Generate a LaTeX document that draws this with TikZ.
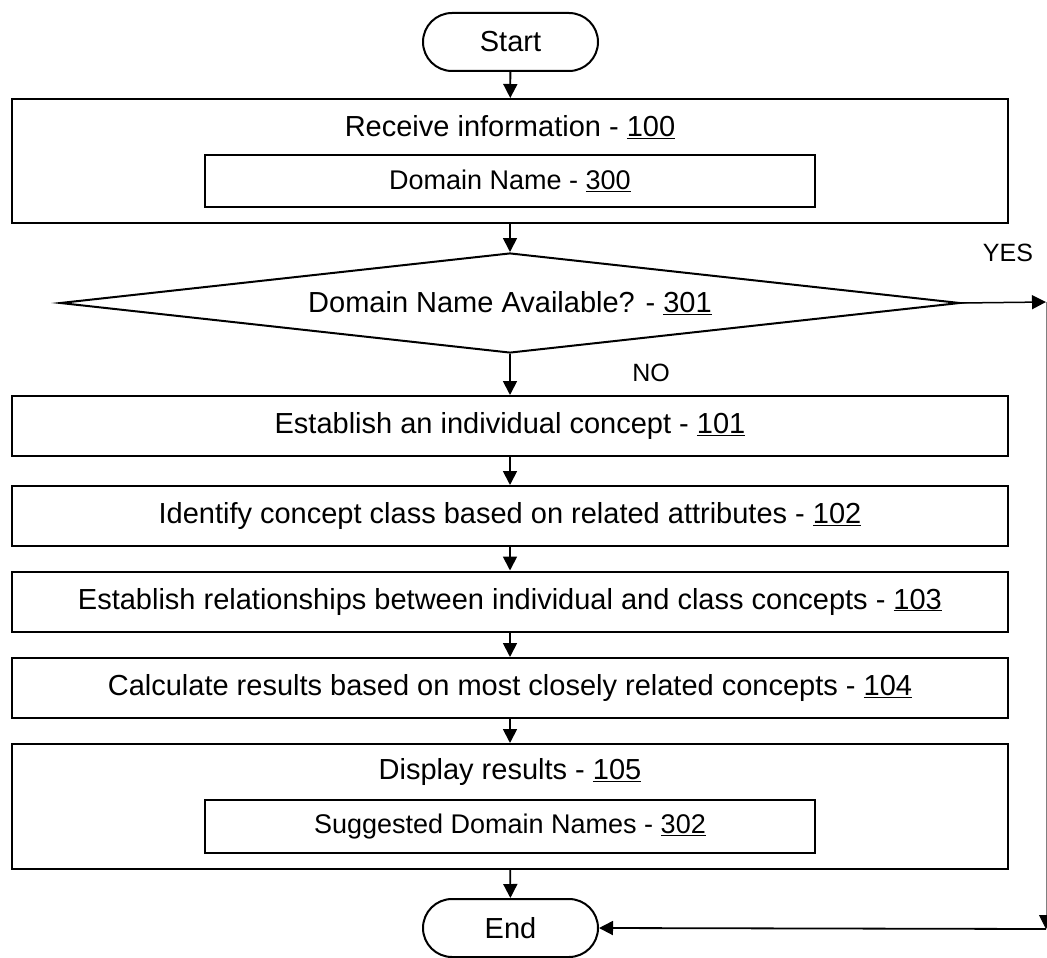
\documentclass[tikz,border=0pt]{standalone}
\usepackage{fontspec}
\setmainfont{Liberation Sans}
\usepackage{tikz}
\usetikzlibrary{arrows.meta}
\usetikzlibrary{shapes.geometric}
\tikzset{
stepbox/.style={draw=black, line width=2pt, rectangle, inner sep=0pt},
termbox/.style={draw=black, line width=2pt, rectangle, rounded corners=29pt, minimum width=175pt, minimum height=58pt, font=\fontsize{29}{34}\selectfont},
maintext/.style={font=\fontsize{29}{34}\selectfont},
subtext/.style={font=\fontsize{27}{32}\selectfont},
answer/.style={font=\fontsize{25}{30}\selectfont},
flow/.style={line width=1.8pt, -{Triangle[length=14pt,width=14pt,color=black]}}}

\begin{document}
\begin{tikzpicture}[x=1pt,y=-1pt]
    \useasboundingbox (0,0) rectangle (1047,958);

                \node[termbox] (start) at (510.5,42) {Start};

                \node[stepbox, minimum width=996pt, minimum height=124pt] (recv) at (510,161) {};
                \node[maintext] (recvT) at (510,127) {Receive information - \underline{100}};
                \node[stepbox, subtext, minimum width=610pt, minimum height=52pt] (dname) at (510,181) {Domain Name - \underline{300}};

                \node[diamond, draw=black, line width=2pt, aspect=9, inner sep=0pt, minimum width=900pt, minimum height=100pt, maintext] (avail) at (510,303) {Domain Name Available? - \underline{301}};

                \node[stepbox, maintext, minimum width=996pt, minimum height=60pt] (s101) at (510,426) {Establish an individual concept - \underline{101}};
                \node[stepbox, maintext, minimum width=996pt, minimum height=60pt] (s102) at (510,516) {Identify concept class based on related attributes - \underline{102}};
                \node[stepbox, maintext, minimum width=996pt, minimum height=60pt] (s103) at (510,601.5) {Establish relationships between individual and class concepts - \underline{103}};
                \node[stepbox, maintext, minimum width=996pt, minimum height=60pt] (s104) at (510,688) {Calculate results based on most closely related concepts - \underline{104}};

                \node[stepbox, minimum width=996pt, minimum height=125pt] (s105) at (510,806.5) {};
                \node[maintext] (s105T) at (510,772) {Display results - \underline{105}};
                \node[stepbox, subtext, minimum width=610pt, minimum height=53pt] (sugg) at (510,826.5) {Suggested Domain Names - \underline{302}};

                \node[termbox] (end) at (510.5,928) {End};

                \node[answer] (yes) at (1008,253) {YES};
                \node[answer] (no) at (651,373) {NO};

                \coordinate (yesA) at (1046,302);
                \coordinate (yesB) at (1046,929);

                \draw[flow] (start) -- (recv);
                \draw[flow] (recv) -- (avail);
                \draw[flow] (avail) -- (s101);
                \draw[flow] (s101) -- (s102);
                \draw[flow] (s102) -- (s103);
                \draw[flow] (s103) -- (s104);
                \draw[flow] (s104) -- (s105);
                \draw[flow] (s105) -- (end);
                \draw[flow, line width=1.5pt] (avail.east) -- (yesA);
                \draw[flow, line width=1pt, draw=gray] (yesA) -- (yesB);
                \draw[flow] (yesB) -- (end.east);

            \end{tikzpicture}
\end{document}
